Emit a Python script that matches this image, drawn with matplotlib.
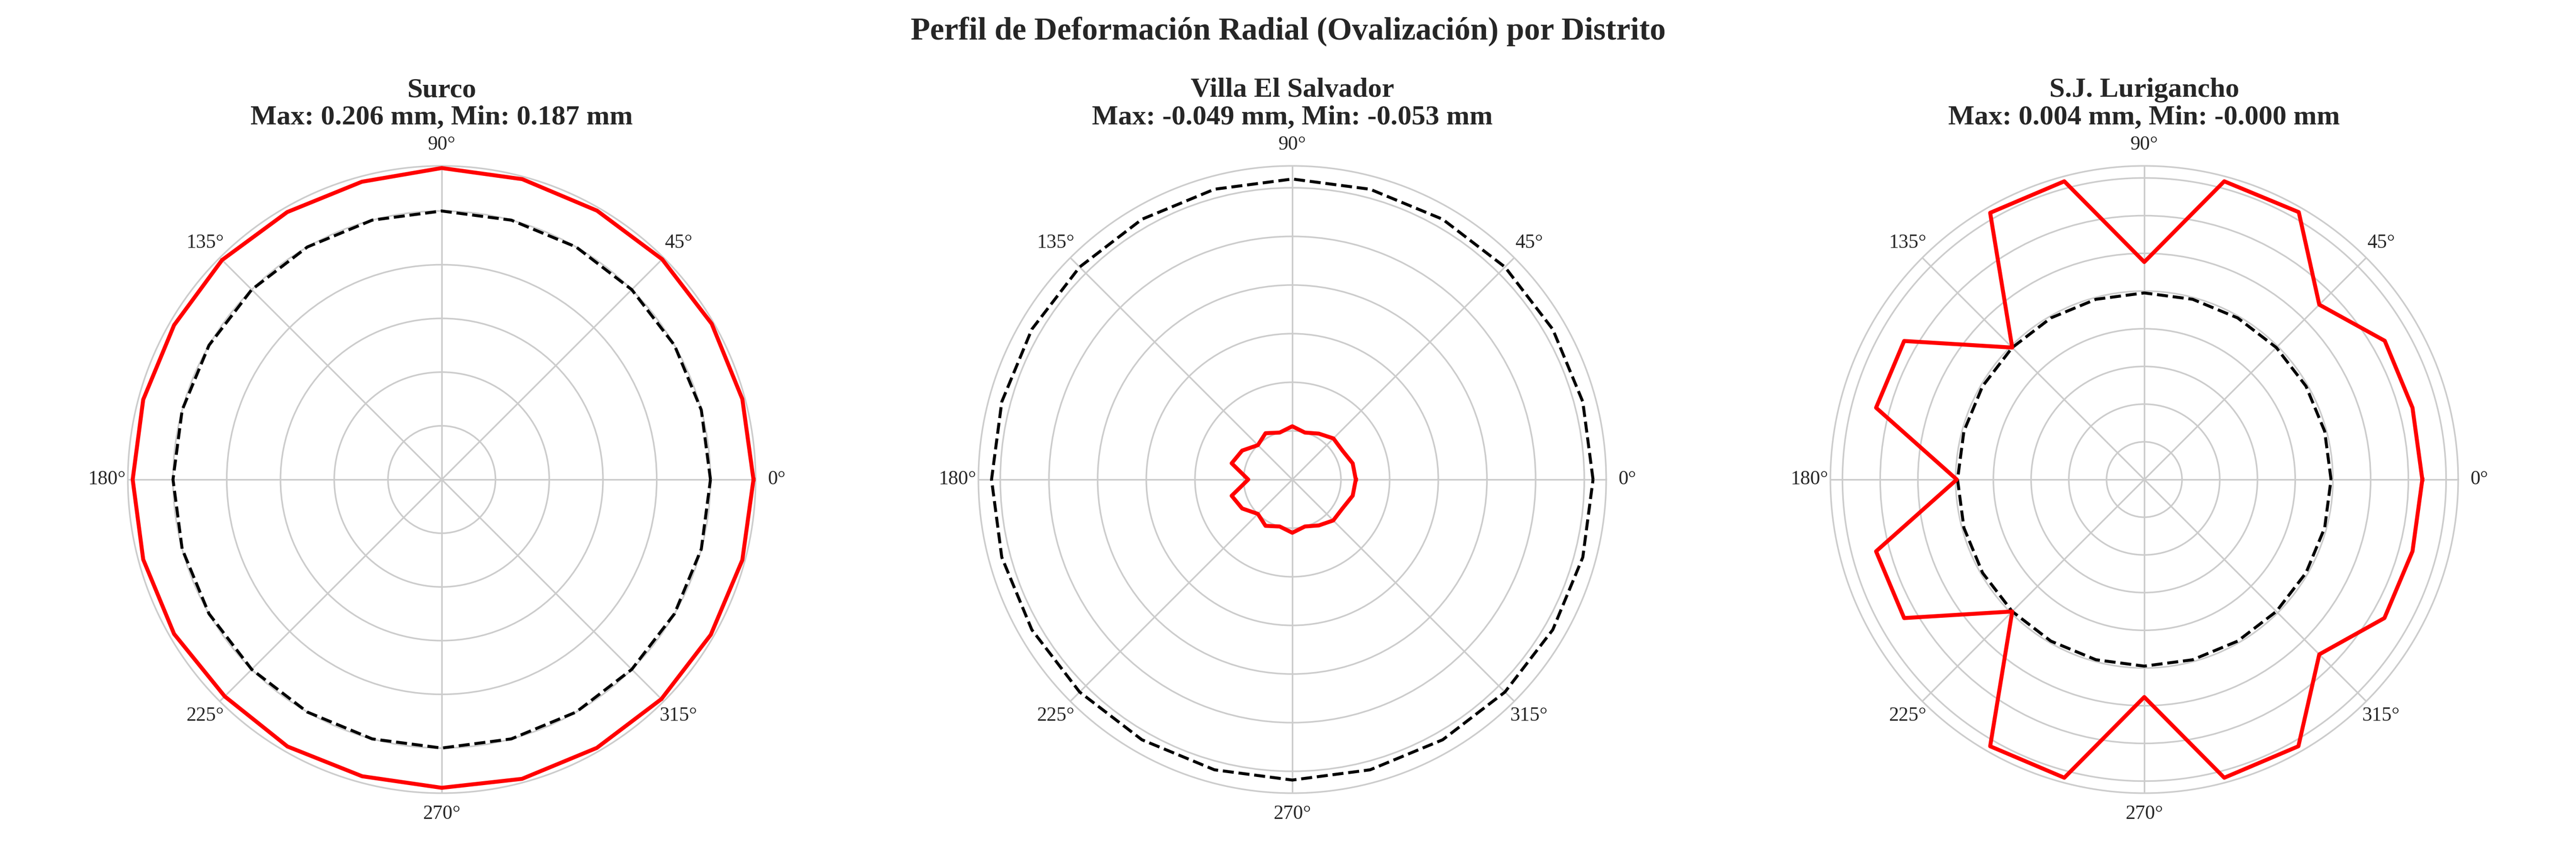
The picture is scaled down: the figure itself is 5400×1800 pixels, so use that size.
import numpy as np
import matplotlib
matplotlib.use("Agg")
import matplotlib.pyplot as plt

# ---------------- data ----------------
angulos_deg = [0, 15, 30, 45, 60, 75, 90, 105, 120, 135, 150, 165,
               180, 195, 210, 225, 240, 255, 270, 285, 300, 315, 330, 345]

distritos = ["Surco", "Villa El Salvador", "S.J. Lurigancho"]
def_max_mm = [0.206, -0.049, 0.004]
def_min_mm = [0.187, -0.053, -0.0001]

# plotted (exaggerated) radius of the deformed profile, in grid-ring units
radio_surco = [5.80, 5.79, 5.80, 5.80, 5.78, 5.79, 5.80, 5.74, 5.75, 5.78, 5.75, 5.75,
               5.75, 5.75, 5.75, 5.71, 5.74, 5.72, 5.74, 5.77, 5.77, 5.78, 5.78, 5.79]
radio_ves = [1.305, 1.285, 1.19, 1.195, 1.09, 1.00, 1.095, 1.00, 1.10, 1.00, 1.19, 1.29,
             0.905, 1.29, 1.19, 1.00, 1.10, 1.00, 1.095, 1.00, 1.09, 1.19, 1.19, 1.285]
radio_sjl = [7.37, 7.36, 7.36, 6.56, 8.19, 8.19, 5.77, 8.19, 8.17, 4.95, 7.35, 7.36,
             4.97, 7.36, 7.35, 4.95, 8.17, 8.19, 5.77, 8.19, 8.17, 6.56, 7.35, 7.36]
radios = [radio_surco, radio_ves, radio_sjl]

# reference (undeformed) circle radius, same units
radio_referencia = [5.0, 6.18, 4.95]

# ---------------- style ----------------
TEXT = "#262626"
GRID = "#cccccc"
plt.rcParams["font.family"] = ["Liberation Serif", "DejaVu Serif"]
plt.rcParams["text.color"] = TEXT
plt.rcParams["xtick.color"] = TEXT
plt.rcParams["ytick.color"] = TEXT
plt.rcParams["axes.edgecolor"] = GRID
plt.rcParams["grid.color"] = GRID
plt.rcParams["grid.linewidth"] = 0.8
plt.rcParams["axes.linewidth"] = 0.8

fig = plt.figure(figsize=(18, 6), dpi=300)

# layout (pixels of the 5400x1800 canvas)
centros_x = [926, 2709, 4495]
half = 658
cy = 1006
W, H = 5400, 1800
rings = [5, 6, 8]
rlims = [5.84, 6.45, 8.32]
title_base1 = 203   # baseline of first title line (px from top)
title_base2 = 261   # baseline of second title line

for i, nombre in enumerate(distritos):
    left = (centros_x[i] - half) / W
    bottom = (H - cy - half) / H
    ax = fig.add_axes([left, bottom, 2 * half / W, 2 * half / H], projection="polar")
    ax.set_facecolor("white")

    theta = np.deg2rad(np.array(angulos_deg + [angulos_deg[0]], dtype=float))
    theta[-1] = 2 * np.pi
    r = np.array(radios[i] + [radios[i][0]])
    rref = np.full_like(theta, radio_referencia[i])

    ax.plot(theta, rref, color="black", linestyle="--", linewidth=1.5, zorder=3)
    ax.plot(theta, r, color="red", linestyle="-", linewidth=2, zorder=4)

    ax.set_ylim(0, rlims[i])
    ax.set_yticks(np.arange(1, rings[i] + 1))
    ax.set_yticklabels([])
    ax.set_thetagrids(np.arange(0, 360, 45))
    ax.tick_params(axis="x", labelsize=10, colors=TEXT, pad=0)
    ax.grid(True, color=GRID, linewidth=0.8)
    ax.spines["polar"].set_color(GRID)
    ax.spines["polar"].set_linewidth(0.8)

    xc = centros_x[i] / W
    fig.text(xc, 1 - title_base1 / H, nombre, ha="center", va="baseline",
             fontsize=14, fontweight="bold", color=TEXT)
    fig.text(xc, 1 - title_base2 / H,
             f"Max: {def_max_mm[i]:.3f} mm, Min: {def_min_mm[i]:.3f} mm",
             ha="center", va="baseline", fontsize=14, fontweight="bold", color=TEXT)

fig.suptitle("Perfil de Deformación Radial (Ovalización) por Distrito",
             fontsize=16, fontweight="bold", color=TEXT, y=0.954, va="baseline")

fig.savefig("out.png", dpi=300, facecolor="white")
